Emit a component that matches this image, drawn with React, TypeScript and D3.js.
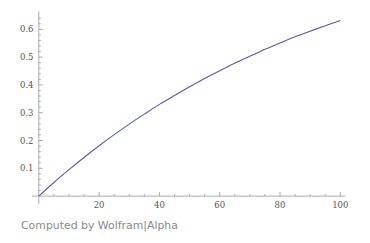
import React from "react";
import * as d3 from "d3";

const xValues = [0, 5, 10, 15, 20, 25, 30, 35, 40, 45, 50, 55, 60, 65, 70, 75, 80, 85, 90, 95, 100];
const yValues = [0, 0.049, 0.095, 0.139, 0.181, 0.221, 0.259, 0.295, 0.33, 0.362, 0.393, 0.423, 0.451, 0.478, 0.503, 0.528, 0.551, 0.573, 0.593, 0.613, 0.632];
const xTicks = [20, 40, 60, 80, 100];
const yTicks = [0.1, 0.2, 0.3, 0.4, 0.5, 0.6];
const credit = "Computed by Wolfram|Alpha";

export default function App() {
  const W = 370, H = 243;
  const x = d3.scaleLinear().domain([0, 100]).range([38.8, 340.3]);
  const y = d3.scaleLinear().domain([0, 0.6]).range([196.1, 29.3]);
  const line = d3.line<number>().x((_, i) => x(xValues[i])).y((d) => y(d)).curve(d3.curveMonotoneX);
  const xMinor = d3.range(0, 101, 5).filter((v) => v % 20 !== 0);
  const yMinor = d3.range(0, 66, 2).map((v) => v / 100).filter((v) => Math.round(v * 100) % 10 !== 0 && v > 0);
  const axisColor = "#aaaaaa";
  const labelColor = "#555555";
  const font = "'DejaVu Serif', serif";
  return (
    <svg width={W} height={H} style={{ position: "absolute", left: 0, top: 0, background: "#fff" }}>
      <line x1={32} x2={345.5} y1={y(0)} y2={y(0)} stroke={axisColor} strokeWidth={1} />
      <line x1={x(0)} x2={x(0)} y1={11.5} y2={204} stroke={axisColor} strokeWidth={1} />
      {xTicks.map((t) => (
        <g key={"xt" + t}>
          <line x1={x(t)} x2={x(t)} y1={y(0)} y2={y(0) - 4} stroke={axisColor} />
          <text x={x(t)} y={208} fontSize={8.5} fontFamily={font} fill={labelColor} textAnchor="middle">{t}</text>
        </g>
      ))}
      {xMinor.map((t) => (
        <line key={"xm" + t} x1={x(t)} x2={x(t)} y1={y(0)} y2={y(0) - 2} stroke={axisColor} />
      ))}
      {yTicks.map((t) => (
        <g key={"yt" + t}>
          <line x1={x(0)} x2={x(0) + 4} y1={y(t)} y2={y(t)} stroke={axisColor} />
          <text x={33.5} y={y(t) + 3} fontSize={8.5} fontFamily={font} fill={labelColor} textAnchor="end">{t.toFixed(1)}</text>
        </g>
      ))}
      {yMinor.map((t) => (
        <line key={"ym" + t} x1={x(0)} x2={x(0) + 2} y1={y(t)} y2={y(t)} stroke={axisColor} />
      ))}
      <path d={line(yValues) || ""} fill="none" stroke="#5a5aa8" strokeWidth={1.1} />
      <text x={21} y={229} fontSize={10.9} fontFamily="'DejaVu Sans', sans-serif" fill="#8a8a8a">{credit}</text>
    </svg>
  );
}
